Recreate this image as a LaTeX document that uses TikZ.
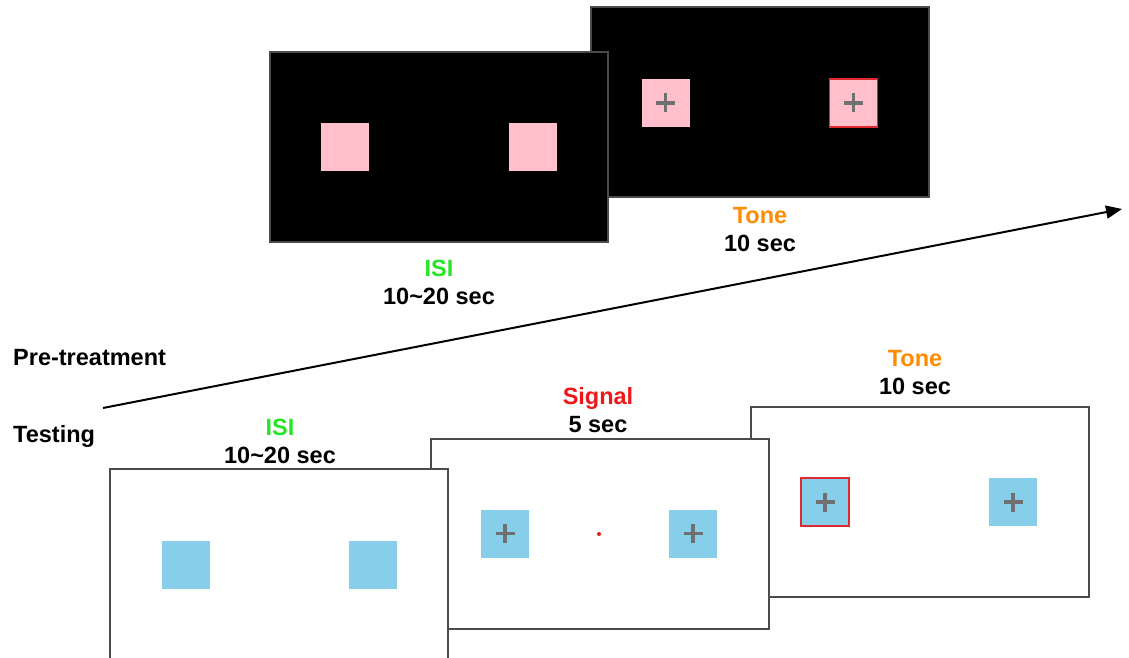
\documentclass[tikz,border=0pt]{standalone}
\usepackage{fontspec}
\setmainfont{Liberation Sans}
\usetikzlibrary{arrows.meta}

\definecolor{framegray}{RGB}{75,75,75}
\definecolor{plusgray}{RGB}{112,112,112}
\definecolor{stimpink}{RGB}{255,192,203}
\definecolor{stimblue}{RGB}{135,206,235}
\definecolor{isigreen}{RGB}{40,228,40}
\definecolor{toneorange}{RGB}{255,140,0}
\definecolor{signalred}{RGB}{238,24,24}
\definecolor{cuered}{RGB}{224,40,48}

\tikzset{
  screen/.style={draw=framegray, line width=2pt, minimum width=338pt,
    minimum height=190pt, inner sep=0pt},
  darkscreen/.style={screen, fill=black},
  lightscreen/.style={screen, fill=white},
  stim/.style={minimum size=48pt, inner sep=0pt},
  pinkstim/.style={stim, fill=stimpink},
  bluestim/.style={stim, fill=stimblue},
  cued/.style={draw=cuered, line width=1.6pt},
  withplus/.style={path picture={
      \draw[plusgray, line width=3.6pt]
        (path picture bounding box.center) ++(-9.5pt,0) -- ++(19pt,0)
        (path picture bounding box.center) ++(0,-9.5pt) -- ++(0,19pt);}},
  caption/.style={font=\bfseries\fontsize{23.5}{28}\selectfont,
    align=center, inner sep=0pt},
  phase/.style={font=\bfseries\fontsize{23.5}{28}\selectfont,
    anchor=west, inner sep=0pt},
  timeline/.style={line width=2pt,
    -{Triangle[length=16pt, width=13pt]}},
}

\begin{document}
\begin{tikzpicture}[x=1pt, y=-1pt]
\useasboundingbox (0,0) rectangle (1129,658);

% ---------- pre-treatment trial (dark screens) ----------
\node[darkscreen] (ptone) at (759.5,102) {};
\node[pinkstim, withplus] (ptoneL) at (665.5,103) {};
\node[pinkstim, withplus, cued] (ptoneR) at (853.5,103) {};

\node[darkscreen] (pisi) at (439,147) {};
\node[pinkstim] (pisiL) at (345,147) {};
\node[pinkstim] (pisiR) at (533,147) {};

\node[caption] (pisilab) at (439,282)
  {\textcolor{isigreen}{ISI}\\10\textasciitilde 20 sec};
\node[caption] (ptonelab) at (760,229.5)
  {\textcolor{toneorange}{Tone}\\10 sec};

% ---------- time axis ----------
\coordinate (tstart) at (103,408);
\coordinate (tend) at (1122,209);
\draw[timeline] (tstart) -- (tend);

\node[phase] (pretreat) at (13,358) {Pre-treatment};
\node[phase] (testing) at (13,436) {Testing};

% ---------- testing trial (light screens) ----------
\node[lightscreen] (ttone) at (919.5,502) {};
\node[bluestim, withplus, cued] (ttoneL) at (825,502) {};
\node[bluestim, withplus] (ttoneR) at (1013,502) {};

\node[lightscreen] (tsig) at (599.5,533.5) {};
\node[bluestim, withplus] (tsigL) at (505,533.5) {};
\node[bluestim, withplus] (tsigR) at (693,533.5) {};
\node[circle, fill=signalred, inner sep=0pt, minimum size=4pt] (tsigdot) at (599,534) {};

\node[lightscreen] (tisi) at (279,564) {};
\node[bluestim] (tisiL) at (185.5,564.5) {};
\node[bluestim] (tisiR) at (373,564.5) {};

\node[caption] (tisilab) at (280,441)
  {\textcolor{isigreen}{ISI}\\10\textasciitilde 20 sec};
\node[caption] (tsiglab) at (598,410)
  {\textcolor{signalred}{Signal}\\5 sec};
\node[caption] (ttonelab) at (915,373)
  {\textcolor{toneorange}{Tone}\\10 sec};
\end{tikzpicture}
\end{document}
